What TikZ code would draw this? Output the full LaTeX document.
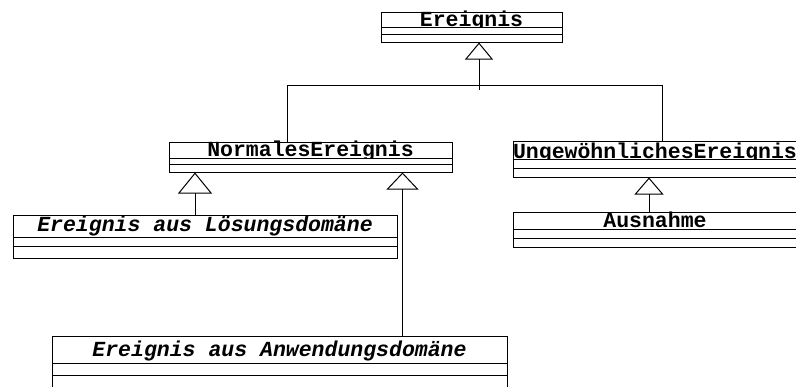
\documentclass[tikz,border=0pt]{standalone}
\usepackage{fontspec}
\setmonofont{Liberation Mono}
\usetikzlibrary{arrows.meta}
\tikzset{
  ln/.style={line width=1pt, draw=black},
  classbox/.style={ln, inner sep=0pt, outer sep=0pt, anchor=north west},
  cname/.style={font=\ttfamily\bfseries\fontsize{21.5}{24}\selectfont, anchor=base, inner sep=0pt},
  cnameit/.style={font=\ttfamily\bfseries\itshape\fontsize{21.5}{24}\selectfont, anchor=base, inner sep=0pt},
  gen/.style 2 args={ln, -{Triangle[open, length=#1pt, width=#2pt, line width=1pt]}},
}
\newcommand\klassebox[9]{%
  % #1 name, #2 left, #3 top, #4 right, #5 bottom, #6 div1, #7 div2, #8 baseline, #9 text style
  \fill[white] (#2,#6) rectangle (#4,#5);
  \node[classbox, minimum width={(#4-#2)*1pt}, minimum height={(#5-#3)*1pt}] (#1) at (#2,#3) {};
  \draw[ln] (#2,#6) -- (#4,#6) (#2,#7) -- (#4,#7);
}
\newcommand\klasse[9]{%
  \node[cname] (#1-name) at ({(#2+#4)/2},#8) {#9};
  \klassebox{#1}{#2}{#3}{#4}{#5}{#6}{#7}{#8}{}%
}
\newcommand\klasseit[9]{%
  \node[cnameit] (#1-name) at ({(#2+#4)/2},#8) {#9};
  \klassebox{#1}{#2}{#3}{#4}{#5}{#6}{#7}{#8}{}%
}
\begin{document}
\begin{tikzpicture}[x=1pt, y=-1pt]
  \useasboundingbox (0,0) rectangle (796,386);
  \clip (0,0) rectangle (796,386);
  \fill[white] (0,0) rectangle (796,386);

  \klasse{ereignis}{381}{12.3}{562}{42.5}{27.3}{34}{26}{Ereignis}
  \klasse{normales}{169}{142.3}{452}{172.5}{158.3}{164.3}{156.3}{NormalesEreignis}
  \klasse{ungew}{513}{141.7}{797}{177.5}{159.4}{168.4}{158}{UngewöhnlichesEreignis}
  \klasse{ausnahme}{513}{212}{797}{247}{229.4}{238.2}{227}{Ausnahme}
  \klasseit{loesung}{13}{215}{397}{258}{237.2}{246.2}{231.7}{Ereignis aus Lösungsdomäne}
  \klasseit{anwendung}{52}{336.5}{507}{400}{363}{375}{356}{Ereignis aus Anwendungsdomäne}

  % generalization to Ereignis
  \coordinate (g1) at (479,90);
  \coordinate (barL) at (287,85);
  \coordinate (barR) at (662,85);
  \draw[ln] (normales.north -| barL) -- (barL) -- (barR) -- (ungew.north -| barR);
  \draw[gen={17}{28}] (g1) -- (g1 |- ereignis.south);

  % generalization to NormalesEreignis
  \coordinate (g2) at (195,0);
  \draw[gen={21}{34}] (g2 |- loesung.north) -- (g2 |- normales.south);
  \coordinate (g3) at (402.5,0);
  \draw[gen={17}{32}] (g3 |- anwendung.north) -- (g3 |- normales.south);

  % generalization to UngewoehnlichesEreignis
  \coordinate (g4) at (649,0);
  \draw[gen={17}{29}] (g4 |- ausnahme.north) -- (g4 |- ungew.south);
\end{tikzpicture}
\end{document}
